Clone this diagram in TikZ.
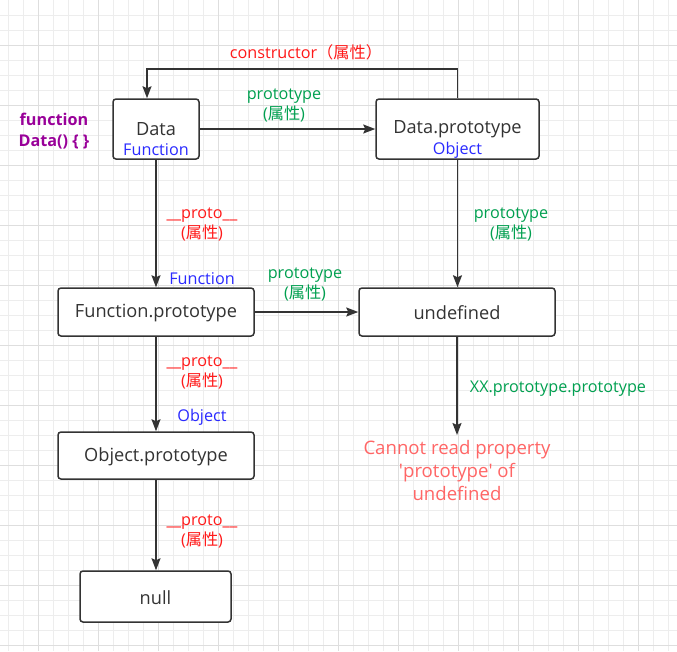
\documentclass[tikz,border=0pt]{standalone}
\usepackage{fontspec}
\setmainfont{Open Sans}
\newfontfamily\cjk{Noto Sans CJK SC}
\usetikzlibrary{arrows.meta}
\definecolor{ink}{HTML}{333333}
\definecolor{lblred}{HTML}{FF1A1A}
\definecolor{lblgreen}{HTML}{00A050}
\definecolor{lblblue}{HTML}{2A2AFF}
\definecolor{lblpurple}{HTML}{990099}
\definecolor{errred}{HTML}{FF6666}
\definecolor{gridlight}{HTML}{EDEDED}
\definecolor{griddark}{HTML}{DEDEDE}
\tikzset{
  box/.style={draw=ink, line width=1.5pt, rounded corners=3pt, fill=white,
    text=ink, font=\fontsize{18.2}{21}\selectfont, inner sep=0pt},
  boxtxt/.style={text=ink, font=\fontsize{18.2}{21}\selectfont, inner sep=0pt},
  arr/.style={draw=ink, line width=1.6pt,
    -{Stealth[length=12pt,width=9pt,inset=2pt]}},
  lbl/.style={font=\fontsize{16.2}{20}\selectfont, align=center, inner sep=0pt},
  redlbl/.style={lbl, text=lblred},
  greenlbl/.style={lbl, text=lblgreen},
  bluelbl/.style={lbl, text=lblblue},
  gl/.style={draw=gridlight, line width=0.8pt},
  gd/.style={draw=griddark, line width=0.9pt},
}
\begin{document}
\begin{tikzpicture}[x=1pt,y=-1pt]
\useasboundingbox (0,0) rectangle (677,651);
\fill[white] (0,0) rectangle (677,651);
% grid
\foreach \i in {0,...,44} \draw[gl] ({8.3+15*\i},0) -- ({8.3+15*\i},651);
\foreach \j in {1,...,43} \draw[gl] (0,{15*\j}) -- (677,{15*\j});
\foreach \i in {0,...,10} \draw[gd] ({38.3+60*\i},0) -- ({38.3+60*\i},651);
\foreach \j in {0,...,10} \draw[gd] (0,{45+60*\j}) -- (677,{45+60*\j});

% boxes
\node[box, minimum width=86pt, minimum height=60pt] (data) at (156,129) {};
\node[boxtxt] (datatxt) at (156,129) {Data};
\node[bluelbl] (datatype) at (156,150) {Function};

\node[box, minimum width=163pt, minimum height=60pt] (dp) at (457.5,129) {};
\node[boxtxt] (dptxt) at (457.5,129.5) {Data.prototype};
\node[bluelbl] (dptype) at (457.5,150) {Object};

\node[box, minimum width=196pt, minimum height=48pt] (fp) at (156,312) {};
\node[boxtxt] (fptxt) at (156,313) {Function.prototype};
\node[box, minimum width=196pt, minimum height=48pt] (undef) at (457,312) {};
\node[boxtxt] (undeftxt) at (457,312.5) {undefined};
\node[box, minimum width=196pt, minimum height=47pt] (op) at (156,455.5) {};
\node[boxtxt] (optxt) at (156,457) {Object.prototype};
\node[box, minimum width=151pt, minimum height=51pt] (nul) at (155.5,596.5) {};
\node[boxtxt] (nultxt) at (155.5,597.5) {null};

\node[lbl, text=lblpurple, font=\fontsize{16.2}{21}\bfseries\selectfont] (fn) at (54,131) {function\\Data() \{ \}};

\node[lbl, text=errred, font=\fontsize{18.6}{23}\selectfont] (err) at (457,471) {Cannot read property\\\textquotesingle prototype\textquotesingle{} of\\undefined};

% connectors
\coordinate (c1) at (457.5,69);
\coordinate (c2) at (147,69);
\draw[arr] (dp.north) -- (c1) -- (c2) -- (c2 |- data.north);
\node[redlbl] (lconstr) at (306,52) {constructor{\cjk （属性）}};

\draw[arr] (data.east) -- (dp.west);
\node[greenlbl] (lproto1) at (284,105) {prototype\\({\cjk 属性})};

\draw[arr] (data.south) -- (fp.north);
\node[redlbl] (lp1) at (202,224.5) {\_\_proto\_\_\\({\cjk 属性})};
\node[bluelbl] (fptype) at (202,279) {Function};

\draw[arr] (dp.south) -- (undef.north -| dp.south);
\node[greenlbl] (lproto2) at (511,224.5) {prototype\\({\cjk 属性})};

\draw[arr] (fp.east) -- (undef.west);
\node[greenlbl] (lproto3) at (305,284) {prototype\\({\cjk 属性})};

\draw[arr] (fp.south) -- (op.north);
\node[redlbl] (lp2) at (202,372.5) {\_\_proto\_\_\\({\cjk 属性})};
\node[bluelbl] (optype) at (202,417) {Object};

\draw[arr] (op.south) -- (nul.north -| op.south);
\node[redlbl] (lp3) at (202,531.5) {\_\_proto\_\_\\({\cjk 属性})};

\coordinate (errtop) at (457,435);
\draw[arr] (undef.south) -- (errtop);
\node[greenlbl] (lxx) at (558,388.5) {XX.prototype.prototype};
\end{tikzpicture}
\end{document}
